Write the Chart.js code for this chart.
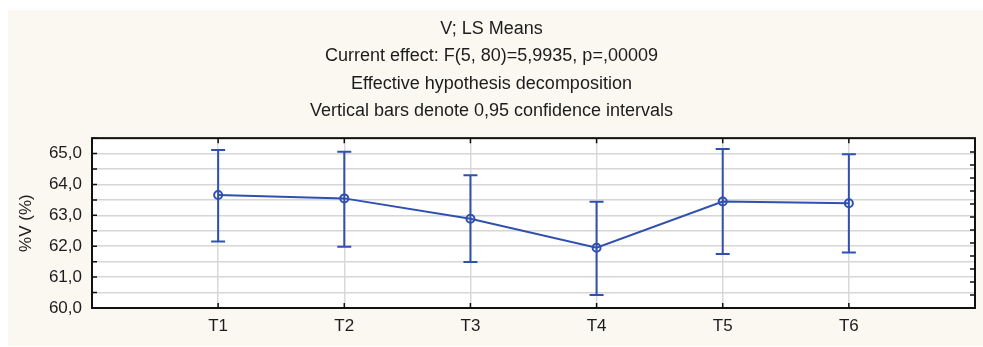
<!DOCTYPE html>
<html>
<head>
<meta charset="utf-8">
<script src="https://cdn.jsdelivr.net/npm/chart.js@4.4.1/dist/chart.umd.min.js"></script>
<style>
    html, body {
        margin: 0;
        padding: 0;
        background: #ffffff;
    }
    #idPanel {
        position: absolute;
        left: 8px;
        top: 10px;
        width: 975px;
        height: 336px;
        background: #fbf8f1;
    }
</style>
</head>
<body>
<div id="idPanel">
    <canvas id="idChartMeans" width="975" height="336"></canvas>
</div>
<script>
var aCategories = ['T1', 'T2', 'T3', 'T4', 'T5', 'T6'];
var aMeans = [63.66, 63.55, 62.89, 61.95, 63.45, 63.39];
var aUpper = [65.12, 65.06, 64.30, 63.44, 65.15, 64.98];
var aLower = [62.15, 61.98, 61.49, 60.42, 61.75, 61.80];
var aTitleLines = [
    'V; LS Means',
    'Current effect: F(5, 80)=5,9935, p=,00009',
    'Effective hypothesis decomposition',
    'Vertical bars denote 0,95 confidence intervals'
];
var sAxisTitle = '%V (%)';

var sBlue = '#3050b0';
var sText = '#1c1c1c';
var sFont = "'Liberation Sans', Arial, sans-serif";

// confidence interval whiskers
const errorBarsPlugin = {
    id: 'errorBars',
    beforeDatasetsDraw: function (oChart) {
        var ctx = oChart.ctx;
        var oX = oChart.scales.x;
        var oY = oChart.scales.y;
        ctx.save();
        ctx.strokeStyle = sBlue;
        ctx.lineWidth = 2;
        for (var i = 0; i < aMeans.length; i++) {
            var x = oX.getPixelForValue(i + 1);
            var yTop = oY.getPixelForValue(aUpper[i]);
            var yBottom = oY.getPixelForValue(aLower[i]);
            ctx.beginPath();
            ctx.moveTo(x, yTop);
            ctx.lineTo(x, yBottom);
            ctx.moveTo(x - 7, yTop);
            ctx.lineTo(x + 7, yTop);
            ctx.moveTo(x - 7, yBottom);
            ctx.lineTo(x + 7, yBottom);
            ctx.stroke();
        }
        ctx.restore();
    }
};

// black frame round the plot with inner tick marks
const framePlugin = {
    id: 'frame',
    afterDraw: function (oChart) {
        var ctx = oChart.ctx;
        var a = oChart.chartArea;
        var oX = oChart.scales.x;
        var oY = oChart.scales.y;
        ctx.save();
        ctx.strokeStyle = '#111111';
        ctx.lineWidth = 1.5;
        ctx.beginPath();
        oY.ticks.forEach(function (oTick) {
            var y = oY.getPixelForValue(oTick.value);
            ctx.moveTo(a.left, y);
            ctx.lineTo(a.left + 5, y);
        });
        for (var i = 1; i <= aCategories.length; i++) {
            var x = oX.getPixelForValue(i);
            ctx.moveTo(x, a.top);
            ctx.lineTo(x, a.top + 5);
            ctx.moveTo(x, a.bottom);
            ctx.lineTo(x, a.bottom - 5);
        }
        for (var yR = a.bottom - 13; yR > a.top + 4; yR -= 13) {
            ctx.moveTo(a.right, yR);
            ctx.lineTo(a.right - 5, yR);
        }
        ctx.stroke();
        ctx.lineWidth = 2;
        ctx.strokeRect(a.left, a.top, a.right - a.left, a.bottom - a.top);
        ctx.restore();
    },
    beforeDraw: function (oChart) {
        var a = oChart.chartArea;
        oChart.ctx.save();
        oChart.ctx.fillStyle = '#ffffff';
        oChart.ctx.fillRect(a.left, a.top, a.right - a.left, a.bottom - a.top);
        oChart.ctx.restore();
    }
};

function initChartMeans() {

    var aData = [];
    for (var i = 0; i < aMeans.length; i++) {
        aData.push({
            x: i + 1,
            y: aMeans[i]
        });
    }

    const data = {
        datasets: [{
            label: 'V',
            borderColor: sBlue,
            backgroundColor: 'rgba(0,0,0,0)',
            borderWidth: 2,
            pointRadius: 4,
            pointBorderWidth: 2,
            pointBackgroundColor: 'rgba(0,0,0,0)',
            pointBorderColor: sBlue,
            tension: 0,
            data: aData
        }]
    };

    const config = {
        type: 'line',
        data: data,
        plugins: [errorBarsPlugin, framePlugin],
        options: {
            responsive: false,
            animation: false,
            layout: {
                padding: { left: 0, right: 8, top: 0, bottom: 0 }
            },
            plugins: {
                legend: { display: false },
                tooltip: { enabled: false },
                title: {
                    display: true,
                    text: aTitleLines,
                    color: sText,
                    font: { family: sFont, size: 18, weight: 'normal', lineHeight: 1.53 },
                    padding: { top: 5, bottom: 13 }
                }
            },
            scales: {
                x: {
                    type: 'linear',
                    min: 0,
                    max: 7,
                    afterFit: function (oScale) { oScale.height = 38; },
                    border: { display: false },
                    grid: { color: '#d9d9d9', lineWidth: 1.5, drawTicks: false },
                    ticks: {
                        stepSize: 1,
                        autoSkip: false,
                        maxRotation: 0,
                        padding: 8,
                        color: sText,
                        font: { family: sFont, size: 17 },
                        callback: function (value) {
                            return aCategories[value - 1] || '';
                        }
                    }
                },
                y: {
                    min: 60,
                    max: 65.5,
                    afterFit: function (oScale) { oScale.width = 84; },
                    border: { display: false },
                    grid: { color: '#d6d6d6', lineWidth: 1.5, drawTicks: false },
                    title: {
                        display: true,
                        text: sAxisTitle,
                        color: sText,
                        font: { family: sFont, size: 17 },
                        padding: { top: 8, bottom: 0 }
                    },
                    ticks: {
                        stepSize: 0.5,
                        autoSkip: false,
                        padding: 10,
                        color: sText,
                        font: { family: sFont, size: 17 },
                        callback: function (value) {
                            if (value % 1 !== 0 || value > 65) {
                                return '';
                            }
                            return value.toFixed(1).replace('.', ',');
                        }
                    }
                }
            }
        }
    };

    const oChartMeans = new Chart(
        document.getElementById('idChartMeans'),
        config
    );
}

initChartMeans();
</script>
</body>
</html>
